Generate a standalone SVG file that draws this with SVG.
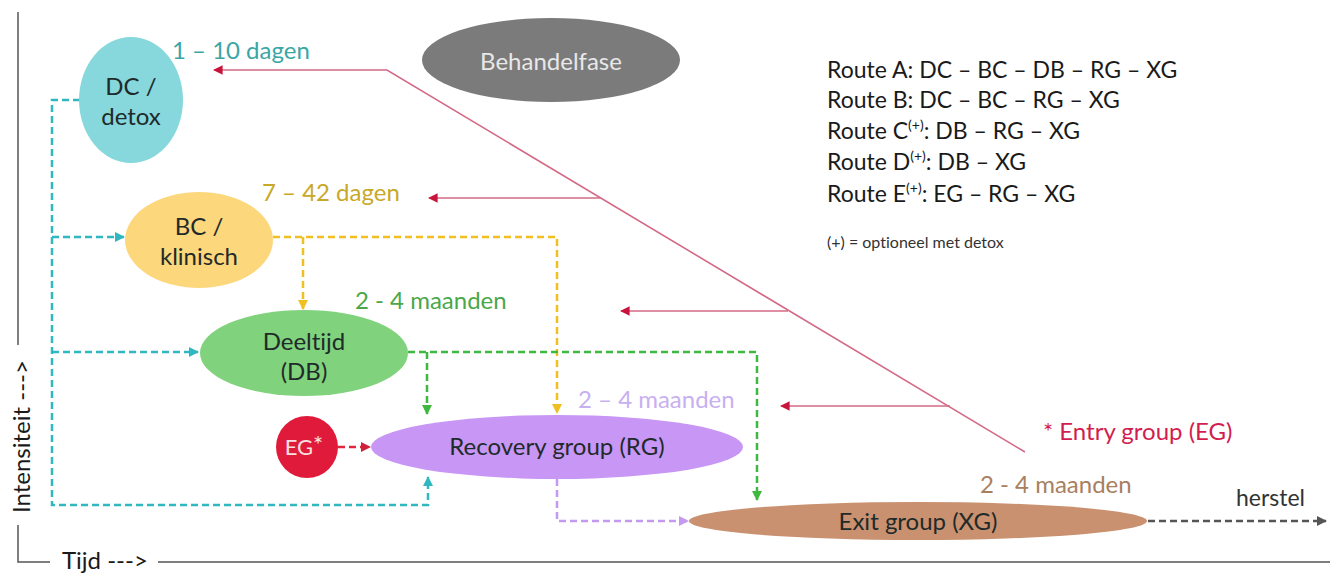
<svg xmlns="http://www.w3.org/2000/svg" width="1343" height="575" viewBox="0 0 1343 575">
<defs>
<style>
text{font-family:Lato,"Open Sans","Liberation Sans",sans-serif;font-variant-ligatures:none}
.lbl{font-size:24px;text-anchor:middle;fill:#1f2a2a}
.dur{font-size:24px}
.route{font-size:23px;fill:#1a1a1a}
.sup{font-size:14px}
.axis{stroke:#555;stroke-width:1.5;fill:none}
.dash{fill:none;stroke-width:2.5;stroke-dasharray:7 4}
.pink{fill:none;stroke:#d46a86;stroke-width:1.6}
</style>
<marker id="mTeal" viewBox="0 0 10 10" refX="9" refY="5" markerWidth="4" markerHeight="4" orient="auto"><path d="M0,0L10,5L0,10z" fill="#2fb8c0"/></marker>
<marker id="mYel" viewBox="0 0 10 10" refX="9" refY="5" markerWidth="4" markerHeight="4" orient="auto"><path d="M0,0L10,5L0,10z" fill="#f0c020"/></marker>
<marker id="mGrn" viewBox="0 0 10 10" refX="9" refY="5" markerWidth="4" markerHeight="4" orient="auto"><path d="M0,0L10,5L0,10z" fill="#3fb83f"/></marker>
<marker id="mPur" viewBox="0 0 10 10" refX="9" refY="5" markerWidth="4" markerHeight="4" orient="auto"><path d="M0,0L10,5L0,10z" fill="#c49af0"/></marker>
<marker id="mRed" viewBox="0 0 10 10" refX="9" refY="5" markerWidth="4" markerHeight="4" orient="auto"><path d="M0,0L10,5L0,10z" fill="#d0203c"/></marker>
<marker id="mGry" viewBox="0 0 10 10" refX="9" refY="5" markerWidth="4" markerHeight="4" orient="auto"><path d="M0,0L10,5L0,10z" fill="#555"/></marker>
<marker id="mPink" viewBox="0 0 10 10" refX="9" refY="5" markerWidth="6" markerHeight="6" orient="auto"><path d="M0,0L10,5L0,10z" fill="#c8143c"/></marker>
</defs>
<rect width="1343" height="575" fill="#ffffff"/>

<g id="axes">
<path class="axis" d="M18,12V345M18,525V562H50M158,562H1330"/>
<text transform="translate(30,513) rotate(-90)" font-size="24" fill="#1a1a1a">Intensiteit ---&gt;</text>
<text x="62" y="569" font-size="24" fill="#1a1a1a">Tijd ---&gt;</text>
</g>

<g id="connectors">
<path class="dash" stroke="#2fb8c0" d="M80,100H52V505H428V477" marker-end="url(#mTeal)"/>
<path class="dash" stroke="#2fb8c0" d="M52,237H124" marker-end="url(#mTeal)"/>
<path class="dash" stroke="#2fb8c0" d="M52,352H198" marker-end="url(#mTeal)"/>
<path class="dash" stroke="#f0c020" d="M273,237H557V413" marker-end="url(#mYel)"/>
<path class="dash" stroke="#f0c020" d="M303,237V309" marker-end="url(#mYel)"/>
<path class="dash" stroke="#3fb83f" d="M408,352H757V500" marker-end="url(#mGrn)"/>
<path class="dash" stroke="#3fb83f" d="M427,352V414" marker-end="url(#mGrn)"/>
<path class="dash" stroke="#e0283c" d="M338,447H370" marker-end="url(#mRed)"/>
<path class="dash" stroke="#c49af0" d="M557,479V521H688" marker-end="url(#mPur)"/>
<path class="dash" stroke="#555" d="M1148,521H1326" marker-end="url(#mGry)"/>
<path class="pink" d="M1025,452L387,70H214" marker-end="url(#mPink)"/>
<path class="pink" d="M601,198H429" marker-end="url(#mPink)"/>
<path class="pink" d="M788,311H621" marker-end="url(#mPink)"/>
<path class="pink" d="M950,406H781" marker-end="url(#mPink)"/>
</g>

<g id="behandelfase">
<ellipse cx="551" cy="60" rx="129" ry="42" fill="#7b7b7b"/>
<text x="551" y="70" font-size="24" text-anchor="middle" fill="#e8e8e8">Behandelfase</text>
</g>

<g id="dc">
<ellipse cx="131" cy="100" rx="52" ry="63" fill="#86d8dc"/>
<text class="lbl" x="131" y="95">DC /</text>
<text class="lbl" x="131" y="125">detox</text>
<text class="dur" x="172" y="59" fill="#3aa6a6">1 – 10 dagen</text>
</g>

<g id="bc">
<ellipse cx="199" cy="240" rx="74" ry="48" fill="#fcd77c"/>
<text class="lbl" x="199" y="235">BC /</text>
<text class="lbl" x="199" y="265">klinisch</text>
<text class="dur" x="262" y="201" fill="#c9a828">7 – 42 dagen</text>
</g>

<g id="db">
<ellipse cx="304" cy="353" rx="104" ry="43" fill="#80d27c"/>
<text class="lbl" x="304" y="350">Deeltijd</text>
<text class="lbl" x="304" y="380">(DB)</text>
<text class="dur" x="355" y="309" fill="#4aa84a">2 - 4 maanden</text>
</g>

<g id="eg">
<circle cx="307" cy="447" r="31" fill="#e01a3a"/>
<text x="304" y="455" font-size="22" text-anchor="middle" fill="#f8e0e0">EG<tspan font-size="24" dy="-2">*</tspan></text>
</g>

<g id="rg">
<ellipse cx="557" cy="447" rx="186" ry="32" fill="#c896f4"/>
<text class="lbl" x="557" y="455" fill="#2a1a40">Recovery group (RG)</text>
<text class="dur" x="578" y="408" fill="#c8b0f0">2 – 4 maanden</text>
</g>

<g id="xg">
<ellipse cx="918" cy="521" rx="229" ry="19" fill="#c9916f"/>
<text class="lbl" x="918" y="530" fill="#2a1a10">Exit group (XG)</text>
<text class="dur" x="980" y="493" fill="#a88060">2 - 4 maanden</text>
<text x="1236" y="506" font-size="23" fill="#333">herstel</text>
</g>

<g id="legend">
<text class="route" x="827" y="78">Route A: DC – BC – DB – RG – XG</text>
<text class="route" x="827" y="108">Route B: DC – BC – RG – XG</text>
<text class="route" x="827" y="139">Route C<tspan class="sup" dy="-9">(+)</tspan><tspan dy="9">: DB – RG – XG</tspan></text>
<text class="route" x="827" y="170">Route D<tspan class="sup" dy="-9">(+)</tspan><tspan dy="9">: DB – XG</tspan></text>
<text class="route" x="827" y="202">Route E<tspan class="sup" dy="-9">(+)</tspan><tspan dy="9">: EG – RG – XG</tspan></text>
<text x="827" y="248" font-size="16" fill="#333">(+) = optioneel met detox</text>
<text x="1043" y="440" font-size="24" fill="#d21e4e">* Entry group (EG)</text>
</g>
</svg>
